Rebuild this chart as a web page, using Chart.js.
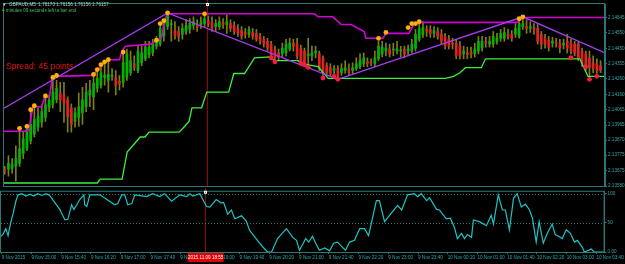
<!DOCTYPE html>
<html>
<head>
<meta charset="utf-8">
<script src="https://cdn.jsdelivr.net/npm/chart.js@4.4.0/dist/chart.umd.min.js"></script>
<style>
  html, body { margin: 0; padding: 0; background: #000; }
  #wrap { position: relative; width: 625px; height: 264px; background: #000; overflow: hidden; }
  #priceChart { position: absolute; left: 0; top: 0; }
  #oscChart { position: absolute; left: 0; top: 188px; }
</style>
</head>
<body>
<div id="wrap">
  <canvas id="priceChart" width="625" height="190"></canvas>
  <canvas id="oscChart" width="625" height="76"></canvas>
</div>
<script>
// M5 candles, one entry per bar (bar 0 = 9 Nov 14:20)
const opens = [
  2.13686, 2.13686, 2.13692, 2.13704, 2.13723, 2.13785, 2.13816, 2.13865, 2.13908, 2.13952,
  2.13983, 2.14014, 2.14075, 2.14094, 2.14125, 2.14168, 2.14156, 2.14125, 2.14075, 2.13989,
  2.14014, 2.14044, 2.14082, 2.14156, 2.14144, 2.14199, 2.14218, 2.14267, 2.14249, 2.14274,
  2.14267, 2.14243, 2.14236, 2.14267, 2.14298, 2.14354, 2.14311, 2.14360, 2.14385, 2.14410,
  2.14422, 2.14465, 2.14478, 2.14527, 2.14589, 2.14602, 2.14564, 2.14558, 2.14540, 2.14558,
  2.14571, 2.14595, 2.14595, 2.14602, 2.14608, 2.14626, 2.14614, 2.14589, 2.14589, 2.14614,
  2.14602, 2.14608, 2.14595, 2.14577, 2.14564, 2.14552, 2.14540, 2.14552, 2.14546, 2.14527,
  2.14509, 2.14496, 2.14478, 2.14447, 2.14422, 2.14416, 2.14422, 2.14447, 2.14484, 2.14478,
  2.14453, 2.14434, 2.14404, 2.14404, 2.14422, 2.14416, 2.14391, 2.14342, 2.14329, 2.14311,
  2.14323, 2.14298, 2.14311, 2.14323, 2.14311, 2.14323, 2.14335, 2.14354, 2.14366, 2.14366,
  2.14354, 2.14385, 2.14416, 2.14434, 2.14447, 2.14441, 2.14434, 2.14434, 2.14447, 2.14434,
  2.14434, 2.14453, 2.14509, 2.14540, 2.14571, 2.14571, 2.14546, 2.14558, 2.14540, 2.14527,
  2.14509, 2.14484, 2.14484, 2.14465, 2.14416, 2.14422, 2.14428, 2.14416, 2.14434, 2.14453,
  2.14496, 2.14478, 2.14478, 2.14496, 2.14515, 2.14515, 2.14540, 2.14540, 2.14540, 2.14527,
  2.14589, 2.14589, 2.14577, 2.14583, 2.14577, 2.14540, 2.14515, 2.14503, 2.14484, 2.14490,
  2.14484, 2.14472, 2.14496, 2.14484, 2.14478, 2.14478, 2.14434, 2.14416, 2.14391, 2.14360,
  2.14354, 2.14342
];
const closes = [
  2.13673, 2.13723, 2.13716, 2.13754, 2.13816, 2.13877, 2.13939, 2.13970, 2.14001, 2.14020,
  2.14051, 2.14094, 2.14125, 2.14174, 2.14199, 2.14125, 2.14106, 2.14020, 2.13970, 2.14044,
  2.14082, 2.14125, 2.14174, 2.14187, 2.14230, 2.14261, 2.14298, 2.14280, 2.14286, 2.14280,
  2.14218, 2.14230, 2.14360, 2.14416, 2.14373, 2.14329, 2.14434, 2.14422, 2.14459, 2.14459,
  2.14478, 2.14509, 2.14577, 2.14608, 2.14663, 2.14608, 2.14533, 2.14527, 2.14577, 2.14595,
  2.14608, 2.14620, 2.14583, 2.14614, 2.14639, 2.14608, 2.14577, 2.14608, 2.14620, 2.14602,
  2.14620, 2.14577, 2.14558, 2.14546, 2.14527, 2.14540, 2.14571, 2.14527, 2.14509, 2.14496,
  2.14478, 2.14453, 2.14404, 2.14391, 2.14397, 2.14453, 2.14478, 2.14484, 2.14465, 2.14404,
  2.14373, 2.14354, 2.14416, 2.14422, 2.14434, 2.14329, 2.14292, 2.14298, 2.14292, 2.14323,
  2.14280, 2.14323, 2.14329, 2.14298, 2.14329, 2.14354, 2.14373, 2.14391, 2.14354, 2.14360,
  2.14391, 2.14465, 2.14459, 2.14453, 2.14416, 2.14447, 2.14447, 2.14441, 2.14416, 2.14447,
  2.14478, 2.14540, 2.14577, 2.14583, 2.14558, 2.14546, 2.14564, 2.14527, 2.14496, 2.14465,
  2.14465, 2.14478, 2.14404, 2.14404, 2.14434, 2.14410, 2.14416, 2.14447, 2.14496, 2.14496,
  2.14484, 2.14496, 2.14527, 2.14515, 2.14546, 2.14552, 2.14527, 2.14515, 2.14577, 2.14608,
  2.14608, 2.14577, 2.14589, 2.14571, 2.14496, 2.14478, 2.14478, 2.14459, 2.14496, 2.14484,
  2.14453, 2.14484, 2.14453, 2.14434, 2.14422, 2.14391, 2.14354, 2.14329, 2.14329, 2.14323,
  2.14311, 2.14311
];
const highs = [
  2.13704, 2.13772, 2.13754, 2.13834, 2.13939, 2.13921, 2.13970, 2.14063, 2.14094, 2.14075,
  2.14094, 2.14150, 2.14156, 2.14267, 2.14249, 2.14236, 2.14236, 2.14144, 2.14100, 2.14075,
  2.14168, 2.14205, 2.14230, 2.14249, 2.14280, 2.14311, 2.14342, 2.14360, 2.14391, 2.14323,
  2.14311, 2.14280, 2.14434, 2.14447, 2.14434, 2.14404, 2.14465, 2.14465, 2.14496, 2.14496,
  2.14509, 2.14527, 2.14608, 2.14626, 2.14676, 2.14633, 2.14620, 2.14589, 2.14608, 2.14633,
  2.14639, 2.14651, 2.14633, 2.14651, 2.14663, 2.14657, 2.14651, 2.14633, 2.14651, 2.14639,
  2.14663, 2.14633, 2.14620, 2.14602, 2.14589, 2.14577, 2.14589, 2.14577, 2.14571, 2.14546,
  2.14527, 2.14515, 2.14496, 2.14465, 2.14447, 2.14484, 2.14509, 2.14515, 2.14509, 2.14515,
  2.14472, 2.14453, 2.14515, 2.14465, 2.14465, 2.14434, 2.14404, 2.14360, 2.14354, 2.14342,
  2.14342, 2.14354, 2.14373, 2.14354, 2.14360, 2.14391, 2.14416, 2.14422, 2.14391, 2.14385,
  2.14434, 2.14496, 2.14496, 2.14484, 2.14478, 2.14484, 2.14496, 2.14465, 2.14465, 2.14472,
  2.14509, 2.14571, 2.14608, 2.14620, 2.14595, 2.14595, 2.14589, 2.14583, 2.14571, 2.14546,
  2.14533, 2.14515, 2.14509, 2.14496, 2.14465, 2.14459, 2.14459, 2.14484, 2.14527, 2.14527,
  2.14521, 2.14527, 2.14558, 2.14546, 2.14571, 2.14583, 2.14571, 2.14564, 2.14608, 2.14639,
  2.14651, 2.14633, 2.14620, 2.14608, 2.14602, 2.14558, 2.14540, 2.14527, 2.14521, 2.14515,
  2.14509, 2.14509, 2.14540, 2.14509, 2.14496, 2.14490, 2.14453, 2.14434, 2.14434, 2.14404,
  2.14385, 2.14373
];
const lows = [
  2.13655, 2.13642, 2.13661, 2.13611, 2.13704, 2.13754, 2.13803, 2.13846, 2.13890, 2.13927,
  2.13952, 2.13989, 2.14051, 2.14075, 2.14106, 2.14051, 2.13983, 2.13921, 2.13921, 2.13952,
  2.13958, 2.13970, 2.14051, 2.14082, 2.14063, 2.14174, 2.14199, 2.14218, 2.14174, 2.14249,
  2.14156, 2.14187, 2.14205, 2.14249, 2.14280, 2.14311, 2.14298, 2.14342, 2.14373, 2.14391,
  2.14404, 2.14447, 2.14465, 2.14496, 2.14571, 2.14496, 2.14509, 2.14496, 2.14509, 2.14540,
  2.14546, 2.14571, 2.14558, 2.14577, 2.14589, 2.14589, 2.14558, 2.14558, 2.14571, 2.14577,
  2.14546, 2.14558, 2.14540, 2.14527, 2.14509, 2.14515, 2.14521, 2.14509, 2.14496, 2.14478,
  2.14459, 2.14434, 2.14385, 2.14373, 2.14373, 2.14397, 2.14404, 2.14434, 2.14434, 2.14385,
  2.14354, 2.14342, 2.14342, 2.14373, 2.14391, 2.14311, 2.14274, 2.14280, 2.14274, 2.14286,
  2.14255, 2.14280, 2.14292, 2.14280, 2.14292, 2.14311, 2.14323, 2.14335, 2.14335, 2.14342,
  2.14335, 2.14373, 2.14397, 2.14404, 2.14397, 2.14404, 2.14416, 2.14397, 2.14391, 2.14404,
  2.14422, 2.14434, 2.14496, 2.14521, 2.14527, 2.14521, 2.14521, 2.14509, 2.14478, 2.14447,
  2.14447, 2.14447, 2.14385, 2.14385, 2.14385, 2.14385, 2.14391, 2.14397, 2.14416, 2.14434,
  2.14459, 2.14459, 2.14459, 2.14478, 2.14496, 2.14496, 2.14509, 2.14496, 2.14521, 2.14515,
  2.14571, 2.14546, 2.14552, 2.14540, 2.14478, 2.14447, 2.14453, 2.14434, 2.14459, 2.14459,
  2.14422, 2.14447, 2.14422, 2.14416, 2.14404, 2.14373, 2.14335, 2.14311, 2.14267, 2.14298,
  2.14292, 2.14298
];

// upper channel (magenta), breakpoints: bar index / price
const upperIdx = [-0.2, 5.4, 6.5, 7.6, 10.0, 10.8, 12.1, 12.9, 23.7, 27.7, 31.0, 31.7, 32.6, 39.5, 42.3, 43.8,
  83.6, 84.7, 88.7, 90.9, 93.6, 97.1, 97.6, 102.2, 103.0, 109.2, 110.5, 112.4, 138.5, 140.1, 162.2];
const upperVal = [2.13927, 2.13927, 2.13933, 2.14082, 2.14082, 2.14144, 2.14144, 2.14274, 2.14280, 2.14379,
  2.14379, 2.14434, 2.14465, 2.14478, 2.14515, 2.14670, 2.14670, 2.14651, 2.14651, 2.14602, 2.14602,
  2.14558, 2.14515, 2.14515, 2.14546, 2.14546, 2.14602, 2.14616, 2.14616, 2.14647, 2.14647];

// lower channel (green)
const lowerIdx = [-0.2, 25.0, 25.8, 31.7, 33.1, 33.9, 36.6, 37.9, 39.0, 47.1, 48.4, 49.8, 50.6, 53.2, 54.6,
  60.5, 61.9, 64.8, 67.5, 71.5, 72.9, 79.3, 80.1, 84.7, 87.4, 119.1, 121.3, 123.1, 124.5, 128.8, 129.9,
  155.4, 157.6, 162.2];
const lowerVal = [2.13599, 2.13599, 2.13624, 2.13624, 2.13797, 2.13816, 2.13890, 2.13890, 2.13921, 2.13921,
  2.13952, 2.13989, 2.14075, 2.14075, 2.14174, 2.14174, 2.14292, 2.14292, 2.14391, 2.14397, 2.14373,
  2.14373, 2.14354, 2.14335, 2.14261, 2.14261, 2.14274, 2.14298, 2.14329, 2.14329, 2.14385, 2.14385,
  2.14274, 2.14274];

// zigzag (violet)
const zigIdx = [-0.2, 44, 90, 140, 162.2];
const zigVal = [2.14072, 2.14676, 2.14255, 2.14651, 2.14422];

// fractal-style dots
const highDotIdx = [4, 6, 7, 8, 11, 13, 14, 24, 25, 26, 27, 28, 32, 41, 42, 43, 44, 54, 101, 103, 109, 110, 111, 112, 139, 140];
const highDotVal = [2.13945, 2.13958, 2.14063, 2.14088, 2.14150, 2.14267, 2.14280, 2.14286, 2.14317, 2.14348,
  2.14366, 2.14379, 2.14428, 2.14503, 2.14608, 2.14626, 2.14676, 2.14670, 2.14515, 2.14552, 2.14583,
  2.14608, 2.14608, 2.14620, 2.14639, 2.14651];
const lowDotIdx = [72, 73, 80, 81, 82, 86, 89, 90, 153, 157, 158, 160];
const lowDotVal = [2.14391, 2.14366, 2.14356, 2.14348, 2.14331, 2.14263, 2.14274, 2.14255, 2.14393, 2.14335, 2.14255, 2.14274];

// oscillator in the lower window (0..100)
const oscIdx = [-0.5, 0.4, 1.1, 1.7, 2.4, 3.1, 3.8, 4.4, 5.4, 6.5,
  7.6, 8.6, 9.7, 10.8, 11.9, 12.9, 13.8, 15.6, 17.0, 17.8,
  18.8, 19.4, 20.2, 21.0, 22.1, 22.3, 22.9, 23.7, 26.4, 28.3,
  30.4, 31.2, 32.3, 33.1, 33.9, 35.0, 35.8, 39.0, 40.6, 42.5,
  43.8, 45.7, 47.9, 49.8, 50.6, 51.4, 53.3, 55.1, 56.0, 57.7,
  59.1, 59.7, 60.8, 61.8, 62.7, 64.5, 65.8, 66.7, 68.8, 70.2,
  71.5, 72.6, 74.2, 76.6, 78.3, 79.3, 80.1, 81.8, 82.6, 83.6,
  84.7, 85.5, 86.9, 88.2, 89.3, 90.3, 91.7, 92.5, 93.6, 94.9,
  96.3, 97.6, 98.7, 100.8, 101.6, 103.0, 106.5, 107.6, 109.2, 111.0,
  111.9, 112.9, 114.3, 115.1, 117.0, 117.8, 118.6, 119.6, 120.7, 121.8,
  122.6, 123.7, 124.5, 125.3, 126.4, 126.9, 128.5, 130.4, 131.7, 132.3,
  133.6, 134.7, 135.5, 136.6, 137.7, 138.7, 139.8, 140.9, 142.0, 142.8,
  143.8, 144.6, 145.7, 146.8, 148.1, 148.9, 149.8, 150.8, 151.9, 153.0,
  154.1, 154.9, 156.2, 156.8, 158.6, 159.4, 162.2];
const oscVal = [25, 31, 40, 28, 50, 67, 87, 98, 100, 96,
  99, 96, 100, 97, 100, 97, 89, 73, 55, 56,
  81, 73, 81, 90, 98, 81, 78, 98, 98, 90,
  81, 83, 98, 98, 81, 83, 98, 95, 100, 95,
  100, 87, 98, 95, 100, 96, 100, 78, 77, 90,
  84, 85, 65, 72, 57, 62, 53, 37, 20, 9,
  0, 0, 23, 40, 25, 20, 3, 23, 17, 27,
  12, 3, 7, 2, 15, 17, 8, 3, 17, 20,
  40, 40, 28, 88, 88, 52, 80, 72, 98, 100,
  95, 100, 88, 93, 73, 72, 65, 57, 58, 42,
  23, 32, 23, 30, 25, 55, 52, 45, 63, 48,
  98, 72, 72, 38, 92, 100, 77, 82, 72, 58,
  17, 52, 15, 32, 48, 30, 27, 23, 38, 32,
  17, 20, 8, 0, 5, 0, 0];

// axes
const priceTicks = [2.14645, 2.14550, 2.14450, 2.14355, 2.14260, 2.14160, 2.14065, 2.13965, 2.13870, 2.13775, 2.13675, 2.13580];
const oscTicks = [0, 50, 100];
const oscTickText = ['0.00', '50', '100'];
const oscLevels = [0, 50, 100];
const timeTickBars = [0, 8, 16, 24, 32, 40, 48, 56, 64, 72, 80, 88, 96, 104, 112, 120, 128, 136, 144, 152, 160];
const timeLabels = ['9 Nov 2015', '9 Nov 15:00', '9 Nov 15:40', '9 Nov 16:20', '9 Nov 17:00', '9 Nov 17:40',
  '9 Nov 18:20', '9 Nov 19:00', '9 Nov 19:40', '9 Nov 20:20', '9 Nov 21:00', '9 Nov 21:40', '9 Nov 22:20',
  '9 Nov 23:00', '9 Nov 23:40', '10 Nov 00:20', '10 Nov 01:00', '10 Nov 01:40', '10 Nov 02:20',
  '10 Nov 03:00', '10 Nov 03:40'];
const markerBar = 54.6;
const markerText = '2015.11.09 18:55';

const xRange = [-0.2, 162.2];
const priceRange = [2.13580, 2.14732];
const oscRange = [0, 103.3];

// colours
const TEAL = '#2a7878';
const TEAL_TEXT = '#3aa5a5';
const BULL = '#00b400';
const BEAR = '#e02222';
const WICK = '#7e7e18';
const MARKER = '#9a0000';
const FONT = 'Liberation Sans, Arial, sans-serif';

const toPoints = (xs, ys) => xs.map((x, k) => ({ x: x, y: ys[k] }));
const barIdx = opens.map((o, i) => i);

// chart-area frame and vertical time marker
const framePlugin = {
  id: 'frame',
  beforeDatasetsDraw(chart) {
    const { ctx, chartArea: a } = chart;
    const x = Math.round(chart.scales.x.getPixelForValue(markerBar)) + 0.5;
    ctx.save();
    ctx.strokeStyle = MARKER;
    ctx.lineWidth = 1;
    ctx.beginPath();
    ctx.moveTo(x, 0);
    ctx.lineTo(x, a.bottom);
    ctx.stroke();
    ctx.restore();
  },
  afterDraw(chart) {
    const { ctx, chartArea: a } = chart;
    ctx.save();
    ctx.strokeStyle = TEAL;
    ctx.lineWidth = 1;
    ctx.strokeRect(a.left - 0.5, a.top - 0.5, a.right - a.left, a.bottom - a.top + 1);
    const x = Math.round(chart.scales.x.getPixelForValue(markerBar));
    ctx.fillStyle = '#ffffff';
    ctx.fillRect(x - 1, a.top - 1, 3, 3);
    ctx.fillStyle = '#ff2020';
    ctx.fillRect(x, a.top, 1, 1);
    ctx.restore();
  }
};

// texts of the price window
const priceTextPlugin = {
  id: 'priceText',
  afterDraw(chart) {
    const ctx = chart.ctx;
    ctx.save();
    ctx.textBaseline = 'middle';
    ctx.textAlign = 'left';
    ctx.font = '4.6px ' + FONT;
    ctx.fillStyle = '#a9d6c6';
    ctx.fillText('\u25BC  GBPAUD,M5  1.76170 1.76156 1.76156 1.76157', 2, 5);
    ctx.fillStyle = '#45c06a';
    ctx.fillText('4 minutes 09 seconds left to bar end', 2, 11);
    ctx.font = '8.6px ' + FONT;
    ctx.fillStyle = '#ee1111';
    ctx.fillText('Spread: 45 points', 6, 67);
    ctx.restore();
  }
};

// dotted levels, timestamp box of the lower window
const oscPlugin = {
  id: 'oscExtras',
  beforeDatasetsDraw(chart) {
    const { ctx, chartArea: a, scales } = chart;
    ctx.save();
    ctx.strokeStyle = TEAL;
    ctx.lineWidth = 1;
    ctx.setLineDash([1, 2]);
    oscLevels.forEach(v => {
      const y = Math.round(scales.y.getPixelForValue(v)) + 0.5;
      ctx.beginPath();
      ctx.moveTo(a.left, y);
      ctx.lineTo(a.right, y);
      ctx.stroke();
    });
    ctx.restore();
  },
  afterDraw(chart) {
    const { ctx, chartArea: a, scales } = chart;
    const x = scales.x.getPixelForValue(markerBar);
    ctx.save();
    ctx.fillStyle = '#e00000';
    ctx.fillRect(x - 17, a.bottom + 1, 36, 9);
    ctx.fillStyle = '#ffffff';
    ctx.font = '4.6px ' + FONT;
    ctx.textBaseline = 'middle';
    ctx.textAlign = 'center';
    ctx.fillText(markerText, x + 1, a.bottom + 5.5);
    ctx.restore();
  }
};

new Chart(document.getElementById('priceChart').getContext('2d'), {
  type: 'bar',
  data: {
    datasets: [
      { type: 'scatter', data: toPoints(highDotIdx, highDotVal), pointRadius: 2.4, pointBorderWidth: 0,
        pointBackgroundColor: '#ffb000', order: 1 },
      { type: 'scatter', data: toPoints(lowDotIdx, lowDotVal), pointRadius: 2.4, pointBorderWidth: 0,
        pointBackgroundColor: '#ff1744', order: 1 },
      { type: 'line', data: toPoints(zigIdx, zigVal), borderColor: '#a63cf2', borderWidth: 1.3,
        pointRadius: 0, tension: 0, order: 2 },
      { type: 'line', data: toPoints(upperIdx, upperVal), borderColor: '#d400d4', borderWidth: 1.6,
        pointRadius: 0, tension: 0, order: 3 },
      { type: 'line', data: toPoints(lowerIdx, lowerVal), borderColor: '#3cf03c', borderWidth: 1.3,
        pointRadius: 0, tension: 0, order: 3 },
      { type: 'bar', data: barIdx.map(i => ({ x: i, y: [opens[i], closes[i]] })),
        backgroundColor: barIdx.map(i => closes[i] >= opens[i] ? BULL : BEAR),
        barThickness: 2, minBarLength: 1, grouped: false, borderWidth: 0, order: 5 },
      { type: 'bar', data: barIdx.map(i => ({ x: i, y: [lows[i], highs[i]] })),
        backgroundColor: WICK, barThickness: 1, grouped: false, borderWidth: 0, order: 6 }
    ]
  },
  options: {
    responsive: false,
    animation: false,
    devicePixelRatio: 1,
    layout: { padding: { top: 2, left: 1, right: 0, bottom: 2 } },
    plugins: { legend: { display: false }, tooltip: { enabled: false } },
    scales: {
      x: { type: 'linear', min: xRange[0], max: xRange[1], offset: false, display: false },
      y: {
        position: 'right',
        min: priceRange[0], max: priceRange[1],
        afterFit(scale) { scale.width = 20; },
        afterBuildTicks(scale) { scale.ticks = priceTicks.map(v => ({ value: v })); },
        ticks: { color: TEAL_TEXT, font: { size: 4.6, family: FONT }, padding: 1, callback: v => v.toFixed(5) },
        grid: { drawOnChartArea: false, color: TEAL, tickLength: 2 },
        border: { color: TEAL }
      }
    }
  },
  plugins: [framePlugin, priceTextPlugin]
});

new Chart(document.getElementById('oscChart').getContext('2d'), {
  type: 'line',
  data: {
    datasets: [
      { data: toPoints(oscIdx, oscVal), borderColor: '#1cc4c4', borderWidth: 1.2, pointRadius: 0, tension: 0 }
    ]
  },
  options: {
    responsive: false,
    animation: false,
    devicePixelRatio: 1,
    layout: { padding: { top: 2, left: 1, right: 0, bottom: 0 } },
    plugins: { legend: { display: false }, tooltip: { enabled: false } },
    scales: {
      x: {
        type: 'linear', min: xRange[0], max: xRange[1], offset: false,
        afterFit(scale) { scale.height = 12; },
        afterBuildTicks(scale) { scale.ticks = timeTickBars.map(v => ({ value: v })); },
        ticks: { autoSkip: false, maxRotation: 0, align: 'start', color: TEAL_TEXT,
          font: { size: 4.6, family: FONT }, padding: 1, callback: (v, k) => timeLabels[k] },
        grid: { drawOnChartArea: false, color: TEAL, tickLength: 2 },
        border: { display: false }
      },
      y: {
        position: 'right',
        min: oscRange[0], max: oscRange[1],
        afterFit(scale) { scale.width = 20; },
        afterBuildTicks(scale) { scale.ticks = oscTicks.map(v => ({ value: v })); },
        ticks: { color: TEAL_TEXT, font: { size: 4.6, family: FONT }, padding: 1, callback: (v, k) => oscTickText[k] },
        grid: { drawOnChartArea: false, color: TEAL, tickLength: 2 },
        border: { color: TEAL }
      }
    }
  },
  plugins: [framePlugin, oscPlugin]
});
</script>
</body>
</html>
